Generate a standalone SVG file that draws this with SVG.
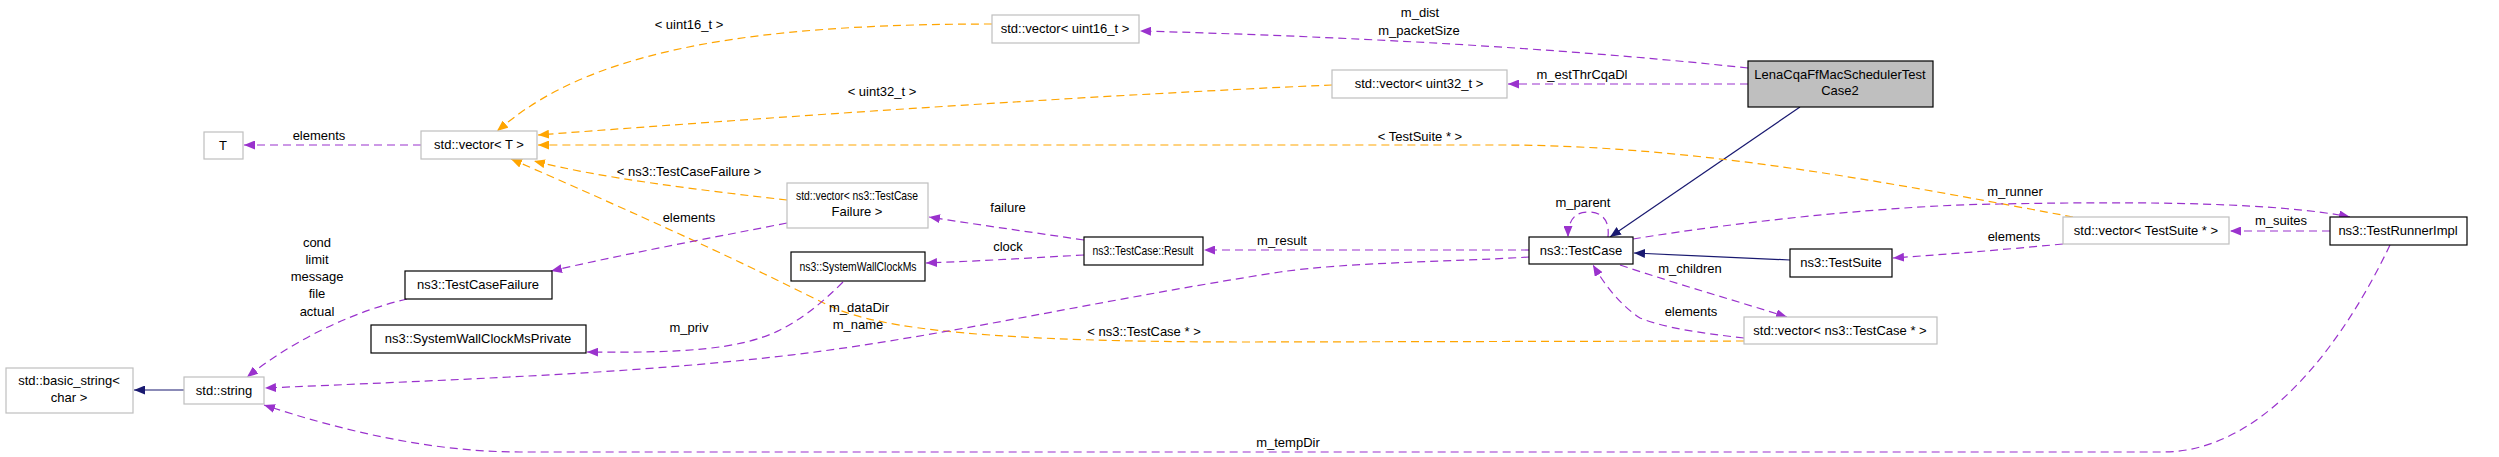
<svg xmlns="http://www.w3.org/2000/svg" width="2499" height="457" viewBox="0 0 2499 457">
<style>
text{font-family:"Liberation Sans",Arial,sans-serif;font-size:13px;fill:#000;text-anchor:middle}
.nd{fill:#fff;stroke:#000;stroke-width:1.2}
.ng{fill:#fff;stroke:#bfbfbf;stroke-width:1.2}
.nm{fill:#bfbfbf;stroke:#000;stroke-width:1.2}
.ep{fill:none;stroke:#9a32cd;stroke-width:1.2;stroke-dasharray:8,5;marker-end:url(#ap)}
.eo{fill:none;stroke:#ffa500;stroke-width:1.2;stroke-dasharray:8,5;marker-end:url(#ao)}
.eb{fill:none;stroke:#191970;stroke-width:1.2;marker-end:url(#ab)}
</style>
<defs>
<marker id="ap" markerUnits="userSpaceOnUse" markerWidth="12" markerHeight="9" refX="11" refY="4.5" orient="auto"><path d="M0,0 L11,4.5 L0,9 z" fill="#9a32cd"/></marker>
<marker id="ao" markerUnits="userSpaceOnUse" markerWidth="12" markerHeight="9" refX="11" refY="4.5" orient="auto"><path d="M0,0 L11,4.5 L0,9 z" fill="#ffa500"/></marker>
<marker id="ab" markerUnits="userSpaceOnUse" markerWidth="12" markerHeight="9" refX="11" refY="4.5" orient="auto"><path d="M0,0 L11,4.5 L0,9 z" fill="#191970"/></marker>
</defs>
<rect width="2499" height="457" fill="#fff"/>
<g id="edges">
<path class="ep" d="M1748,68 C1600,52 1400,38 1140,31"/>
<path class="ep" d="M1748,84 L1508,84"/>
<path class="eb" d="M1800,107 L1610,237"/>
<path class="eo" d="M992,24 C800,24 640,40 540,100 C520,112 508,122 497,131"/>
<path class="eo" d="M1332,85 C1100,95 800,115 538,135"/>
<path class="eo" d="M2073,217 C1900,185 1700,145 1500,145 L538,145"/>
<path class="eo" d="M787,200 C700,190 600,178 534,161"/>
<path class="eo" d="M1744,341 L1250,342 C1000,342 880,330 830,306 C780,282 720,250 511,159"/>
<path class="ep" d="M421,145 L244,145"/>
<path class="ep" d="M787,223 C700,240 620,255 551,271"/>
<path class="ep" d="M407,299 C360,310 300,335 247,377"/>
<path class="ep" d="M843,282 C820,305 800,320 780,330 C740,350 680,353 587,352"/>
<path class="ep" d="M1084,240 C1030,232 980,225 929,217"/>
<path class="ep" d="M1084,255 C1030,258 980,261 926,263"/>
<path class="ep" d="M1529,250 L1204,250"/>
<path class="ep" d="M1529,257 C1450,262 1350,262 1280,272 C1100,300 950,335 800,354 C650,372 500,378 265,388"/>
<path class="ep" d="M1608,237 C1610,218 1600,212 1588,212 C1575,212 1568,220 1568,237"/>
<path class="ep" d="M1633,239 C1750,220 1900,205 2000,204 C2150,201 2280,203 2350,217"/>
<path class="ep" d="M1620,265 C1680,285 1740,302 1787,317"/>
<path class="ep" d="M1744,338 C1700,333 1665,328 1640,318 C1620,305 1605,285 1593,265"/>
<path class="eb" d="M1790,260 L1634,253"/>
<path class="ep" d="M2063,244 C2000,250 1950,254 1893,258"/>
<path class="ep" d="M2330,231 L2230,231"/>
<path class="ep" d="M2390,245 C2340,350 2260,452 2163,452 L520,452 C430,452 340,430 264,405"/>
<path class="eb" d="M184,390 L134,390"/>
</g>
<g id="edge-labels">
<text x="1420" y="17">m_dist</text>
<text x="1419" y="35">m_packetSize</text>
<text x="1582" y="79">m_estThrCqaDl</text>
<text x="689" y="29">&lt; uint16_t &gt;</text>
<text x="882" y="96">&lt; uint32_t &gt;</text>
<text x="1420" y="141">&lt; TestSuite * &gt;</text>
<text x="319" y="140">elements</text>
<text x="689" y="176">&lt; ns3::TestCaseFailure &gt;</text>
<text x="689" y="222">elements</text>
<text x="1008" y="212">failure</text>
<text x="1008" y="251">clock</text>
<text x="1282" y="245">m_result</text>
<text x="859" y="312">m_dataDir</text>
<text x="858" y="329">m_name</text>
<text x="1144" y="336">&lt; ns3::TestCase * &gt;</text>
<text x="689" y="332">m_priv</text>
<text x="317" y="247">cond</text>
<text x="317" y="264">limit</text>
<text x="317" y="281">message</text>
<text x="317" y="298">file</text>
<text x="317" y="316">actual</text>
<text x="1583" y="207">m_parent</text>
<text x="1690" y="273">m_children</text>
<text x="1691" y="316">elements</text>
<text x="2015" y="196">m_runner</text>
<text x="2014" y="241">elements</text>
<text x="2281" y="225">m_suites</text>
<text x="1288" y="447">m_tempDir</text>
</g>
<g id="node-lena"><rect class="nm" x="1748" y="61" width="185" height="46"/><text x="1840" y="79">LenaCqaFfMacSchedulerTest</text><text x="1840" y="95">Case2</text></g>
<g id="node-vec-uint16"><rect class="ng" x="992" y="15" width="147" height="28"/><text x="1065" y="33">std::vector&lt; uint16_t &gt;</text></g>
<g id="node-vec-uint32"><rect class="ng" x="1332" y="70" width="175" height="28"/><text x="1419" y="88">std::vector&lt; uint32_t &gt;</text></g>
<g id="node-vec-T"><rect class="ng" x="421" y="131" width="116" height="28"/><text x="479" y="149">std::vector&lt; T &gt;</text></g>
<g id="node-T"><rect class="ng" x="204" y="132" width="39" height="27"/><text x="223" y="150">T</text></g>
<g id="node-vec-tcf"><rect class="ng" x="787" y="183" width="141" height="45"/><text x="857" y="200" textLength="122" lengthAdjust="spacingAndGlyphs">std::vector&lt; ns3::TestCase</text><text x="857" y="216">Failure &gt;</text></g>
<g id="node-result"><rect class="nd" x="1084" y="237" width="119" height="28"/><text x="1143" y="255" textLength="101" lengthAdjust="spacingAndGlyphs">ns3::TestCase::Result</text></g>
<g id="node-swcm"><rect class="nd" x="791" y="252" width="134" height="29"/><text x="858" y="271" textLength="117" lengthAdjust="spacingAndGlyphs">ns3::SystemWallClockMs</text></g>
<g id="node-tcf"><rect class="nd" x="405" y="271" width="147" height="28"/><text x="478" y="289">ns3::TestCaseFailure</text></g>
<g id="node-swcmp"><rect class="nd" x="371" y="325" width="215" height="28"/><text x="478" y="343">ns3::SystemWallClockMsPrivate</text></g>
<g id="node-string"><rect class="ng" x="184" y="377" width="80" height="27"/><text x="224" y="395">std::string</text></g>
<g id="node-basic-string"><rect class="ng" x="6" y="368" width="127" height="45"/><text x="69" y="385">std::basic_string&lt;</text><text x="69" y="402">char &gt;</text></g>
<g id="node-testcase"><rect class="nd" x="1529" y="237" width="104" height="27"/><text x="1581" y="255">ns3::TestCase</text></g>
<g id="node-testsuite"><rect class="nd" x="1790" y="249" width="102" height="28"/><text x="1841" y="267">ns3::TestSuite</text></g>
<g id="node-vec-testcase"><rect class="ng" x="1744" y="317" width="193" height="27"/><text x="1840" y="335">std::vector&lt; ns3::TestCase * &gt;</text></g>
<g id="node-vec-testsuite"><rect class="ng" x="2063" y="217" width="166" height="27"/><text x="2146" y="235">std::vector&lt; TestSuite * &gt;</text></g>
<g id="node-runner"><rect class="nd" x="2330" y="217" width="137" height="28"/><text x="2398" y="235">ns3::TestRunnerImpl</text></g>
</svg>
